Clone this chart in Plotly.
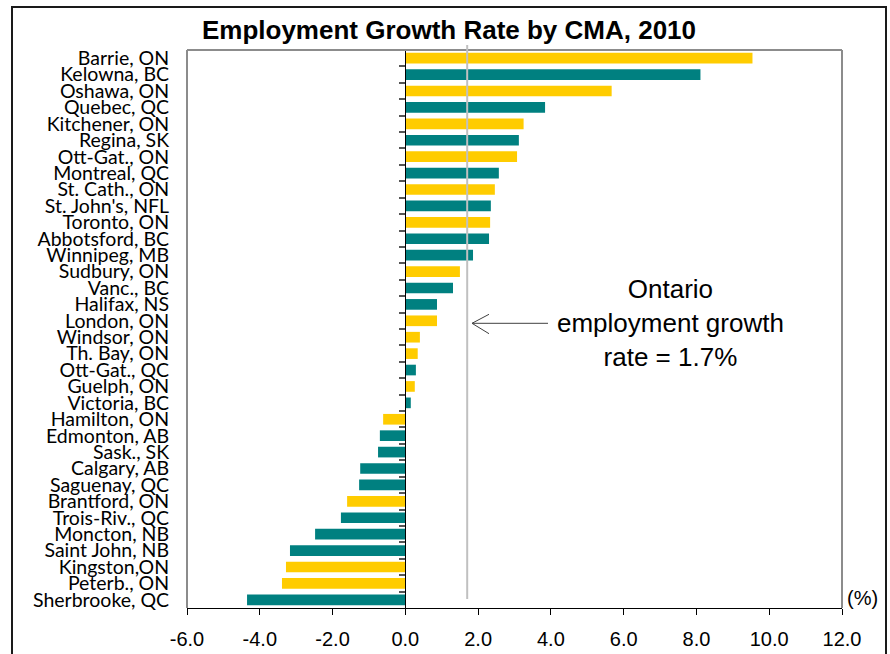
import plotly.graph_objects as go

# Employment growth by census metropolitan area, 2010 (%)
cities = [
    "Barrie, ON", "Kelowna, BC", "Oshawa, ON", "Quebec, QC", "Kitchener, ON",
    "Regina, SK", "Ott-Gat., ON", "Montreal, QC", "St. Cath., ON", "St. John's, NFL",
    "Toronto, ON", "Abbotsford, BC", "Winnipeg, MB", "Sudbury, ON", "Vanc., BC",
    "Halifax, NS", "London, ON", "Windsor, ON", "Th. Bay, ON", "Ott-Gat., QC",
    "Guelph, ON", "Victoria, BC", "Hamilton, ON", "Edmonton, AB", "Sask., SK",
    "Calgary, AB", "Saguenay, QC", "Brantford, ON", "Trois-Riv., QC", "Moncton, NB",
    "Saint John, NB", "Kingston,ON", "Peterb., ON", "Sherbrooke, QC",
]
growth = [
    9.54, 8.11, 5.67, 3.84, 3.25,
    3.12, 3.07, 2.57, 2.46, 2.35,
    2.33, 2.30, 1.86, 1.50, 1.31,
    0.87, 0.87, 0.40, 0.34, 0.29,
    0.26, 0.15, -0.61, -0.70, -0.75,
    -1.24, -1.27, -1.60, -1.77, -2.48,
    -3.17, -3.28, -3.39, -4.35,
]
ontario_rate = 1.7
x_ticks = [-6, -4, -2, 0, 2, 4, 6, 8, 10, 12]
x_tick_text = [f"{v:.1f}" for v in x_ticks]

YELLOW = "#FFCC00"
TEAL = "#008080"
colors = [YELLOW if c.endswith("ON") else TEAL for c in cities]

W, H = 890, 654
L, R, T, B = 187, 48, 50, 46
y_range = [len(cities) - 0.5, -0.5]


def px(xp):
    return (xp - L) / (W - L - R)


def py(yp):
    return (H - B - yp) / (H - T - B)


fig = go.Figure()
fig.add_trace(go.Bar(
    x=growth, y=cities, orientation="h",
    marker=dict(color=colors, line=dict(width=0)),
    hoverinfo="x+y", showlegend=False,
))
# invisible companion trace carrying the zero axis with boundary ticks
fig.add_trace(go.Scatter(
    x=[0] * len(cities), y=cities, yaxis="y2", mode="markers",
    marker=dict(opacity=0), hoverinfo="skip", showlegend=False,
))

fig.update_layout(
    width=W, height=H,
    margin=dict(l=L, r=R, t=T, b=B, pad=0, autoexpand=False),
    paper_bgcolor="white", plot_bgcolor="white",
    bargap=0.35,
    title=dict(
        text="<b>Employment Growth Rate by CMA, 2010</b>",
        x=449 / W, xanchor="center", xref="container",
        y=1 - 30 / H, yanchor="middle", yref="container",
        font=dict(family="Liberation Sans, Arial", size=26, color="black"),
    ),
    xaxis=dict(
        range=[-6, 12], tickmode="array", tickvals=x_ticks, ticktext=x_tick_text,
        ticks="outside", ticklen=6, tickcolor="black", tickwidth=1,
        showline=True, linecolor="black", linewidth=1,
        showgrid=False, zeroline=False, automargin=False,
        ticklabelstandoff=7,
        tickfont=dict(family="Liberation Sans, Arial", size=20, color="black"),
    ),
    yaxis=dict(
        type="category", categoryorder="array", categoryarray=cities,
        range=y_range, autorange=False, automargin=False,
        tickmode="array", tickvals=cities, ticktext=cities,
        ticks="outside", ticklen=13, tickcolor="rgba(0,0,0,0)",
        showline=False, showgrid=False, zeroline=False,
        tickfont=dict(family="Lato", size=19.5, color="black"),
    ),
    yaxis2=dict(
        type="category", categoryorder="array", categoryarray=cities,
        range=y_range, autorange=False, automargin=False,
        overlaying="y", anchor="free", position=px(405.3), side="left",
        ticks="outside", tickson="boundaries", ticklen=6,
        tickcolor="#555555", tickwidth=2,
        showline=True, linecolor="black", linewidth=1,
        showticklabels=False, showgrid=False, zeroline=False,
    ),
)

shapes = [
    # outer chart border
    dict(type="rect", xref="paper", yref="paper",
         x0=px(12), x1=px(886), y0=py(720), y1=py(7),
         line=dict(color="#1a1a1a", width=2), layer="below"),
    # plot frame
    dict(type="line", xref="paper", yref="paper",
         x0=0, x1=1, y0=1, y1=1, line=dict(color="#8c8c8c", width=2)),
    dict(type="line", xref="paper", yref="paper",
         x0=1, x1=1, y0=0, y1=1, line=dict(color="#8c8c8c", width=2)),
    dict(type="line", xref="paper", yref="paper",
         x0=0, x1=0, y0=0, y1=1, line=dict(color="#8c8c8c", width=2)),
    # Ontario reference line
    dict(type="line", xref="x", yref="paper",
         x0=ontario_rate, x1=ontario_rate, y0=py(599), y1=py(45),
         line=dict(color="#c0c0c0", width=2)),
    # open arrow pointing at the reference line
    dict(type="path", xref="paper", yref="paper",
         path=(f"M {px(548)} {py(323.3)} L {px(472)} {py(323.3)} "
               f"M {px(489)} {py(314.3)} L {px(472)} {py(323.3)} "
               f"L {px(489)} {py(333.7)}"),
         line=dict(color="#404040", width=1)),
]
fig.update_layout(shapes=shapes)

fig.add_annotation(
    xref="paper", yref="paper", x=px(670), y=py(323),
    xanchor="center", yanchor="middle", align="center", showarrow=False,
    text=f"Ontario<br>employment growth<br>rate = {ontario_rate}%",
    font=dict(family="Liberation Sans, Arial", size=26, color="black"),
)
fig.add_annotation(
    xref="paper", yref="paper", x=px(845), y=py(598),
    xanchor="left", yanchor="middle", showarrow=False,
    text="(%)",
    font=dict(family="Liberation Sans, Arial", size=20, color="black"),
)

fig.write_html("out.html")
